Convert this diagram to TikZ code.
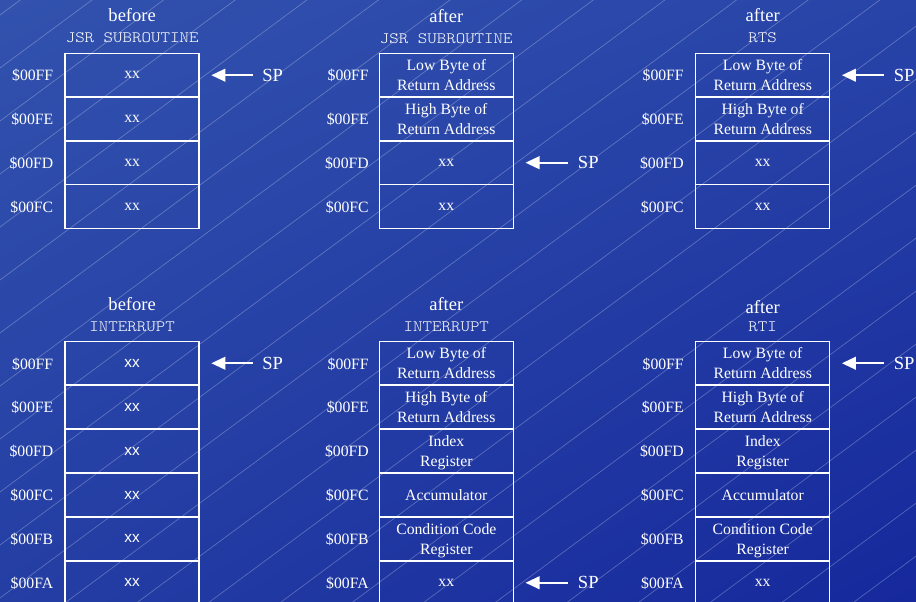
\documentclass[tikz,border=0pt]{standalone}
\usepackage{fontspec}
\setmainfont{Liberation Serif}
\newfontfamily\monof[Extension=.otf,FakeStretch=1.143]{lmmonolt10-regular}
\newfontfamily\sansf{Liberation Sans}
\usetikzlibrary{arrows.meta,shadings}
\definecolor{bgTL}{RGB}{50,82,174}
\definecolor{bgTR}{RGB}{40,68,168}
\definecolor{bgBL}{RGB}{36,62,164}
\definecolor{bgBR}{RGB}{22,40,156}
\newcommand{\cellfont}{\fontsize{11.8}{15}\selectfont}
\newcommand{\headfont}{\fontsize{13.9}{16}\selectfont}
\newcommand{\monohead}{\monof\fontsize{11.85}{14}\selectfont}
\begin{document}
\begin{tikzpicture}[x=0.75pt,y=-0.75pt,
  bgline/.style={draw=white, draw opacity=0.27, line width=0.5pt},
  cell/.style={draw=white, line width=1.1pt, minimum width=100.5pt, minimum height=32.85pt,
    inner sep=0pt, text=white, font=\cellfont, align=center, text depth=0pt},
  sanscell/.style={cell, font=\sansf\fontsize{11.5}{14}\selectfont},
  addr/.style={anchor=base east, inner sep=0pt, text=white, font=\cellfont},
  ttl/.style={anchor=base, inner sep=0pt, text=white, font=\headfont},
  ttlmono/.style={anchor=base, inner sep=0pt, text=white, font=\monohead},
  splabel/.style={anchor=west, inner sep=0pt, text=white, font=\headfont},
  sparrow/.style={draw=white, line width=1.5pt, -{Triangle[length=10.5pt,width=9.5pt]},
    shorten >=8.6pt, shorten <=7pt}
]
\clip (0,0) rectangle (916,602);
\shade[upper left=bgTL, upper right=bgTR, lower left=bgBL, lower right=bgBR] (0,0) rectangle (916,602);
\foreach \k in {0,...,23} {
  \draw[bgline] (-100,{15+53*\k+74}) -- (1000,{15+53*\k-740});
}

% ---------- top left: before JSR SUBROUTINE ----------
\node[ttl] (t1h) at (132.15,21.7) {before};
\node[ttlmono] (t1s) at (132.15,42.3) {JSR SUBROUTINE};
\node[cell] (t1r1) at (132.15,75.2) {xx};
\node[cell] (t1r2) at (132.15,118.9) {xx};
\node[cell] (t1r3) at (132.15,162.7) {xx};
\node[cell] (t1r4) at (132.15,206.4) {xx};
\node[addr] (t1l1) at (53.5,81.0) {\$00FF};
\node[addr] (t1l2) at (53.5,124.7) {\$00FE};
\node[addr] (t1l3) at (53.5,168.5) {\$00FD};
\node[addr] (t1l4) at (53.5,212.2) {\$00FC};
\node[splabel] (t1sp) at (262,75.2) {SP};
\draw[sparrow] (t1sp.west) -- (t1r1.east);

% ---------- top middle: after JSR SUBROUTINE ----------
\node[ttl] (t2h) at (446.3,22.7) {after};
\node[ttlmono] (t2s) at (446.3,43.3) {JSR SUBROUTINE};
\node[cell] (t2r1) at (446.3,75.2) {Low Byte of\\Return Address};
\node[cell] (t2r2) at (446.3,118.9) {High Byte of\\Return Address};
\node[cell] (t2r3) at (446.3,162.7) {xx};
\node[cell] (t2r4) at (446.3,206.4) {xx};
\node[addr] (t2l1) at (369,81.0) {\$00FF};
\node[addr] (t2l2) at (369,124.7) {\$00FE};
\node[addr] (t2l3) at (369,168.5) {\$00FD};
\node[addr] (t2l4) at (369,212.2) {\$00FC};
\node[splabel] (t2sp) at (577.7,162.7) {SP};
\draw[sparrow] (t2sp.west) -- (t2r3.east);

% ---------- top right: after RTS ----------
\node[ttl] (t3h) at (762.7,21.7) {after};
\node[ttlmono] (t3s) at (762.7,42.3) {RTS};
\node[cell] (t3r1) at (762.7,75.2) {Low Byte of\\Return Address};
\node[cell] (t3r2) at (762.7,118.9) {High Byte of\\Return Address};
\node[cell] (t3r3) at (762.7,162.7) {xx};
\node[cell] (t3r4) at (762.7,206.4) {xx};
\node[addr] (t3l1) at (684,81.0) {\$00FF};
\node[addr] (t3l2) at (684,124.7) {\$00FE};
\node[addr] (t3l3) at (684,168.5) {\$00FD};
\node[addr] (t3l4) at (684,212.2) {\$00FC};
\node[splabel] (t3sp) at (893.5,75.2) {SP};
\draw[sparrow] (t3sp.west) -- (t3r1.east);

% ---------- bottom left: before INTERRUPT ----------
\node[ttl] (b1h) at (132.15,310) {before};
\node[ttlmono] (b1s) at (132.15,331.7) {INTERRUPT};
\node[sanscell] (b1r1) at (132.15,363.25) {xx};
\node[sanscell] (b1r2) at (132.15,407.15) {xx};
\node[sanscell] (b1r3) at (132.15,451.05) {xx};
\node[sanscell] (b1r4) at (132.15,494.95) {xx};
\node[sanscell] (b1r5) at (132.15,538.85) {xx};
\node[sanscell] (b1r6) at (132.15,582.75) {xx};
\node[addr] (b1l1) at (53.5,369.05) {\$00FF};
\node[addr] (b1l2) at (53.5,412.95) {\$00FE};
\node[addr] (b1l3) at (53.5,456.85) {\$00FD};
\node[addr] (b1l4) at (53.5,500.75) {\$00FC};
\node[addr] (b1l5) at (53.5,544.65) {\$00FB};
\node[addr] (b1l6) at (53.5,588.55) {\$00FA};
\node[splabel] (b1sp) at (262,363.25) {SP};
\draw[sparrow] (b1sp.west) -- (b1r1.east);

% ---------- bottom middle: after INTERRUPT ----------
\node[ttl] (b2h) at (446.3,310.7) {after};
\node[ttlmono] (b2s) at (446.3,331) {INTERRUPT};
\node[cell] (b2r1) at (446.3,363.25) {Low Byte of\\Return Address};
\node[cell] (b2r2) at (446.3,407.15) {High Byte of\\Return Address};
\node[cell] (b2r3) at (446.3,451.05) {Index\\Register};
\node[cell] (b2r4) at (446.3,494.95) {Accumulator};
\node[cell] (b2r5) at (446.3,538.85) {Condition Code\\Register};
\node[cell] (b2r6) at (446.3,582.75) {xx};
\node[addr] (b2l1) at (369,369.05) {\$00FF};
\node[addr] (b2l2) at (369,412.95) {\$00FE};
\node[addr] (b2l3) at (369,456.85) {\$00FD};
\node[addr] (b2l4) at (369,500.75) {\$00FC};
\node[addr] (b2l5) at (369,544.65) {\$00FB};
\node[addr] (b2l6) at (369,588.55) {\$00FA};
\node[splabel] (b2sp) at (577.7,582.75) {SP};
\draw[sparrow] (b2sp.west) -- (b2r6.east);

% ---------- bottom right: after RTI ----------
\node[ttl] (b3h) at (762.7,313.3) {after};
\node[ttlmono] (b3s) at (762.7,331) {RTI};
\node[cell] (b3r1) at (762.7,363.25) {Low Byte of\\Return Address};
\node[cell] (b3r2) at (762.7,407.15) {High Byte of\\Return Address};
\node[cell] (b3r3) at (762.7,451.05) {Index\\Register};
\node[cell] (b3r4) at (762.7,494.95) {Accumulator};
\node[cell] (b3r5) at (762.7,538.85) {Condition Code\\Register};
\node[cell] (b3r6) at (762.7,582.75) {xx};
\node[addr] (b3l1) at (684,369.05) {\$00FF};
\node[addr] (b3l2) at (684,412.95) {\$00FE};
\node[addr] (b3l3) at (684,456.85) {\$00FD};
\node[addr] (b3l4) at (684,500.75) {\$00FC};
\node[addr] (b3l5) at (684,544.65) {\$00FB};
\node[addr] (b3l6) at (684,588.55) {\$00FA};
\node[splabel] (b3sp) at (893.5,363.25) {SP};
\draw[sparrow] (b3sp.west) -- (b3r1.east);
\end{tikzpicture}
\end{document}
